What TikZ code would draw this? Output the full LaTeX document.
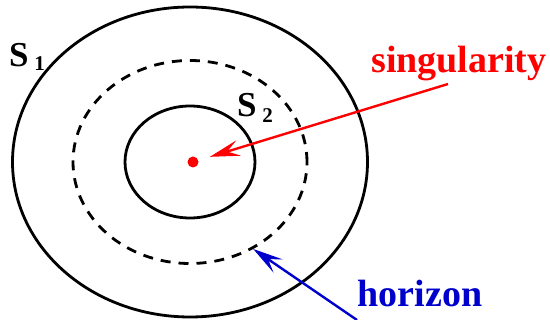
\documentclass[tikz,border=0pt]{standalone}
\usepackage{fontspec}
\setmainfont{Liberation Serif}
\usetikzlibrary{shapes.geometric, arrows.meta}

\definecolor{sgred}{RGB}{255,0,0}
\definecolor{hzblue}{RGB}{0,0,205}

\begin{document}
\begin{tikzpicture}[
    x=1pt, y=-1pt,
    ring/.style={draw, ellipse, line width=2.8pt, inner sep=0pt},
    tag/.style={font=\bfseries\fontsize{38}{38}\selectfont, inner sep=0pt},
    surf/.style={font=\bfseries\fontsize{35}{35}\selectfont, inner sep=0pt, anchor=base west},
    pointer/.style={line width=2.4pt, -{Stealth[length=30pt, width=16pt, inset=12pt]}},
]
\useasboundingbox (0,0) rectangle (550,320);

% ── Surfaces ────────────────────────────────────────────────────────────────
\node[ring, minimum width=355pt, minimum height=310pt] (outer) at (190,162) {};
\node[ring, dash pattern=on 10pt off 8pt, minimum width=234pt, minimum height=203pt] (horizonring) at (190,162) {};
\node[ring, minimum width=130pt, minimum height=112pt] (inner) at (190,162) {};
\node[circle, fill=sgred, minimum size=11pt, inner sep=0pt] (sing) at (193,162) {};

% ── Labels ───────────────────────────────────────────────────────────────────
\node[surf] (sone) at (9,67) {S\,\raisebox{-4pt}{\fontsize{21}{21}\selectfont 1}};
\node[surf] (stwo) at (237,117) {S\,\raisebox{-6pt}{\fontsize{21}{21}\selectfont 2}};
\node[tag, text=sgred, anchor=base] (singtext) at (459,73) {singularity};
\node[tag, text=hzblue, anchor=base] (hortext) at (420,307) {horizon};

% ── Pointers ─────────────────────────────────────────────────────────────────
\coordinate (singtail) at (448,84);
\coordinate (hortail) at (357,320);
\draw[pointer, sgred, shorten >=12pt] (singtail) -- (sing);
\draw[pointer, hzblue] (hortail) -- (horizonring.-54);

\end{tikzpicture}
\end{document}
